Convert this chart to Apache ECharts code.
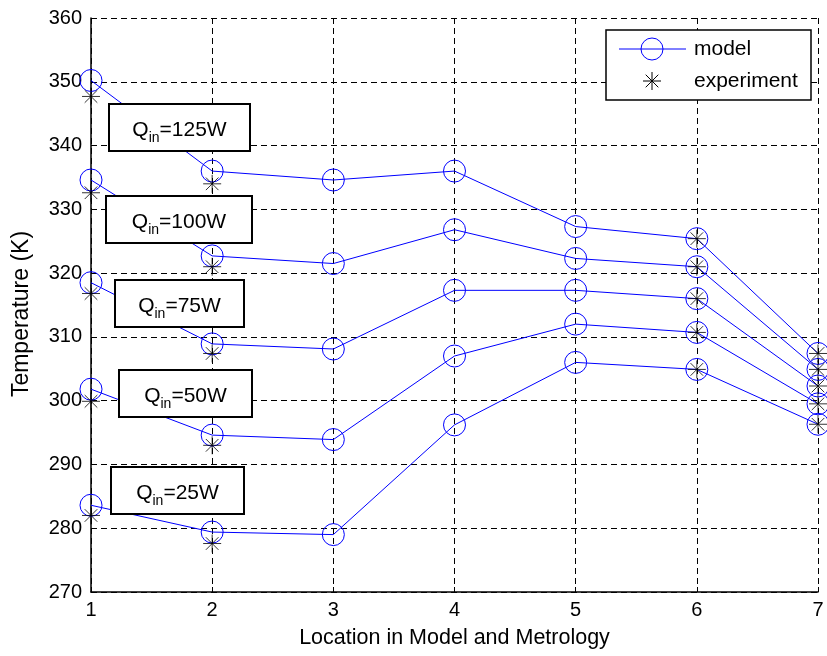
<!DOCTYPE html>
<html>
<head>
<meta charset="utf-8">
<script src="https://cdn.jsdelivr.net/npm/echarts@6/dist/echarts.min.js"></script>
<style>
  html, body { margin: 0; padding: 0; background: #fff; }
  #chart { width: 827px; height: 656px; }
</style>
</head>
<body>
<div id="chart"></div>
<script>
// Measurement locations along the model / metrology path
const locations = [1, 2, 3, 4, 5, 6, 7];

// Model temperatures (K) for each heat input
const model125 = [350.2, 336.0, 334.6, 336.0, 327.3, 325.4, 307.4];
const model100 = [334.6, 322.7, 321.5, 326.8, 322.3, 321.0, 304.9];
const model75  = [318.5, 308.9, 308.1, 317.3, 317.3, 316.0, 302.3];
const model50  = [301.8, 294.6, 293.9, 307.0, 312.0, 310.7, 299.5];
const model25  = [283.6, 279.4, 279.0, 296.2, 306.0, 304.9, 296.3];

// Experimental temperatures (K); no sensors at locations 3-5
const exp125 = [347.7, 334.0, null, null, null, 325.4, 307.4];
const exp100 = [332.6, 321.0, null, null, null, 321.0, 304.9];
const exp75  = [316.8, 307.4, null, null, null, 316.0, 302.3];
const exp50  = [299.9, 293.0, null, null, null, 310.7, 299.5];
const exp25  = [282.0, 277.6, null, null, null, 304.9, 296.3];

// Axis settings
const yMin = 270, yMax = 360, yStep = 10;
const xMin = 1, xMax = 7, xStep = 1;

const FONT = 'Liberation Sans, Arial, sans-serif';
const BLUE = '#0000ff';
const ASTERISK = 'path://M0,-1L0,1M-1,0L1,0M-0.7,-0.7L0.7,0.7M-0.7,0.7L0.7,-0.7';

const pairs = vals => locations.map((x, i) => [x, vals[i]]).filter(p => p[1] != null);

const modelSets = [model125, model100, model75, model50, model25];
const expSets = [exp125, exp100, exp75, exp50, exp25];

const series = [];
modelSets.forEach(vals => {
  series.push({
    name: 'model', type: 'line', data: pairs(vals),
    symbol: 'circle', symbolSize: 22, showAllSymbol: true,
    lineStyle: { color: BLUE, width: 1 },
    itemStyle: { color: 'rgba(0,0,0,0)', borderColor: BLUE, borderWidth: 1 },
    emphasis: { disabled: true }, animation: false, z: 3
  });
});
expSets.forEach(vals => {
  series.push({
    name: 'experiment', type: 'scatter', data: pairs(vals),
    symbol: ASTERISK, symbolSize: 18,
    itemStyle: { color: 'rgba(0,0,0,0)', borderColor: '#000', borderWidth: 1 },
    emphasis: { disabled: true }, animation: false, z: 4
  });
});

// Heat-input annotation boxes: [label, left, top, width, height]
const boxes = [
  ['125W', 109, 104, 141, 47],
  ['100W', 106, 196, 146, 47],
  ['75W', 115, 280, 129, 47],
  ['50W', 119, 370, 133, 47],
  ['25W', 111, 467, 133, 47]
];

const graphics = [];
boxes.forEach(([w, l, t, bw, bh]) => {
  graphics.push({
    type: 'rect', z: 10,
    shape: { x: l, y: t, width: bw, height: bh },
    style: { fill: '#fff', stroke: '#000', lineWidth: 2 }
  });
  graphics.push({
    type: 'text', z: 11, x: l + bw / 2, y: t + bh / 2 + 1,
    style: {
      text: '{q|Q}{s|in}{q|=' + w + '}',
      align: 'center', verticalAlign: 'middle',
      rich: {
        q: { fontFamily: FONT, fontSize: 21, fill: '#000', verticalAlign: 'bottom', lineHeight: 24 },
        s: { fontFamily: FONT, fontSize: 14, fill: '#000', verticalAlign: 'bottom', lineHeight: 24, padding: [0, 0, -5, 0] }
      }
    }
  });
});

// Legend box
const legendStar = [[652, 72, 652, 90], [643, 81, 661, 81], [645.7, 74.7, 658.3, 87.3], [645.7, 87.3, 658.3, 74.7]];
graphics.push(
  { type: 'rect', z: 10, shape: { x: 606, y: 30, width: 205, height: 70 },
    style: { fill: '#fff', stroke: '#000', lineWidth: 1.5 } },
  { type: 'line', z: 11, shape: { x1: 619, y1: 49, x2: 686, y2: 49 },
    style: { stroke: BLUE, lineWidth: 1 } },
  { type: 'circle', z: 12, shape: { cx: 652, cy: 49, r: 11 },
    style: { fill: 'none', stroke: BLUE, lineWidth: 1 } },
  { type: 'text', z: 11, x: 694, y: 49,
    style: { text: 'model', fontFamily: FONT, fontSize: 21, fill: '#000', verticalAlign: 'middle' } },
  { type: 'text', z: 11, x: 694, y: 81,
    style: { text: 'experiment', fontFamily: FONT, fontSize: 21, fill: '#000', verticalAlign: 'middle' } }
);
legendStar.forEach(([x1, y1, x2, y2]) => graphics.push({
  type: 'line', z: 11, shape: { x1, y1, x2, y2 }, style: { stroke: '#000', lineWidth: 1 }
}));

const chart = echarts.init(document.getElementById('chart'), null, { renderer: 'canvas' });
chart.setOption({
  animation: false,
  backgroundColor: '#fff',
  grid: { left: 91, right: 9, top: 18, bottom: 64, containLabel: false, outerBoundsMode: 'none' },
  xAxis: {
    type: 'value', min: xMin, max: xMax, interval: xStep,
    name: 'Location in Model and Metrology', nameLocation: 'middle', nameGap: 35,
    nameTextStyle: { fontFamily: FONT, fontSize: 21.5, color: '#000' },
    axisLine: { lineStyle: { color: '#000', width: 1.5 } },
    axisTick: { inside: true, length: 5, lineStyle: { color: '#000' } },
    axisLabel: { fontFamily: FONT, fontSize: 20, color: '#000', margin: 8 },
    splitLine: { show: true, lineStyle: { color: '#000', type: [6, 4], width: 1 } }
  },
  yAxis: {
    type: 'value', min: yMin, max: yMax, interval: yStep,
    name: 'Temperature (K)', nameLocation: 'middle', nameGap: 58,
    nameTextStyle: { fontFamily: FONT, fontSize: 23, color: '#000', padding: [0, 18, 0, 0] },
    axisLine: { show: true, lineStyle: { color: '#000', width: 1.5 } },
    axisTick: { show: true, inside: true, length: 5, lineStyle: { color: '#000' } },
    axisLabel: { fontFamily: FONT, fontSize: 20, color: '#000', margin: 9 },
    splitLine: { show: true, lineStyle: { color: '#000', type: [6, 4], width: 1 } }
  },
  series: series,
  graphic: graphics
});
</script>
</body>
</html>
